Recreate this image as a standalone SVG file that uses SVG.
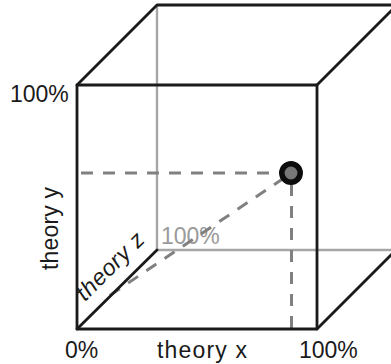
<svg xmlns="http://www.w3.org/2000/svg" width="391" height="364" viewBox="0 0 391 364">
  <style>
    .edge { stroke: #1a1a1a; stroke-width: 2.8; fill: none; stroke-linecap: round; stroke-linejoin: round; }
    .guide { stroke: #a6a6a6; stroke-width: 2.4; fill: none; }
    .dash { stroke: #808080; stroke-width: 3; fill: none; stroke-dasharray: 12 10; }
    .lbl { font-family: "Liberation Sans", Arial, sans-serif; font-size: 23px; fill: #1a1a1a; }
    .glbl { font-family: "Liberation Sans", Arial, sans-serif; font-size: 23px; fill: #9a9a9a; }
  </style>
  <rect width="391" height="364" fill="#ffffff"/>
  <g id="back-guides">
    <line class="guide" x1="157" y1="5" x2="157" y2="250"/>
    <line class="guide" x1="157" y1="250" x2="400" y2="250"/>
    <text class="glbl" x="161" y="244">100%</text>
  </g>
  <g id="connectors">
    <line class="dash" x1="81" y1="173" x2="284" y2="173"/>
    <line class="dash" x1="291.5" y1="184" x2="291.5" y2="329"/>
    <line class="dash" x1="284" y1="178" x2="103" y2="300"/>
  </g>
  <g id="cube">
    <rect class="edge" x="77" y="85" width="240" height="244"/>
    <polyline class="edge" points="77,85 157,5 400,5"/>
    <line class="edge" x1="317" y1="85" x2="400" y2="2"/>
    <line class="edge" x1="317" y1="329" x2="400" y2="246"/>
    <line class="edge" x1="77" y1="329" x2="157" y2="250"/>
  </g>
  <g id="point">
    <circle cx="291" cy="173" r="9.2" fill="#777777" stroke="#0d0d0d" stroke-width="5.5"/>
  </g>
  <g id="labels">
    <text class="lbl" x="10" y="102">100%</text>
    <text class="lbl" x="65" y="358">0%</text>
    <text class="lbl" x="157" y="358" textLength="90">theory x</text>
    <text class="lbl" x="299" y="358">100%</text>
    <text class="lbl" transform="translate(58,270) rotate(-90)" textLength="83">theory y</text>
    <text class="lbl" transform="translate(85,302) rotate(-45)" font-style="italic" textLength="86">theory z</text>
  </g>
</svg>
